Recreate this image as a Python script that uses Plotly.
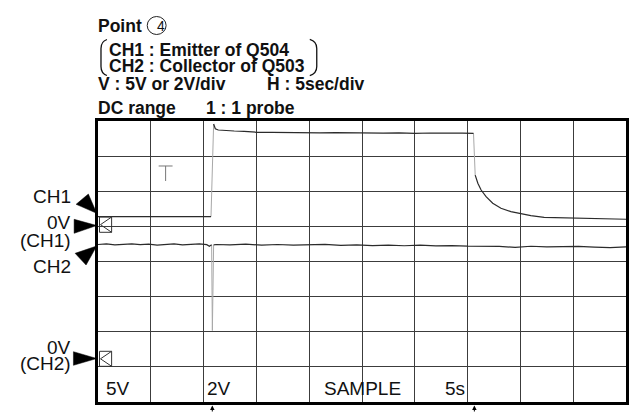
import plotly.graph_objects as go

# ---- scope settings ----
SEC_PER_DIV = 5
CH1_V_PER_DIV = 5
CH2_V_PER_DIV = 2
N_HDIV, N_VDIV = 10, 8
CH1_GND_DIV = 1.039    # 0V(CH1) marker, divisions above screen centre
CH2_GND_DIV = -2.776   # 0V(CH2) marker

# ---- CH1 : Emitter of Q504 (seconds, volts) ----
ch1_time = [0, 2, 4, 6, 8, 10, 10.70,
            10.95, 11.11, 11.39, 11.96, 12.9, 13.84, 15.07, 16.5, 18, 19.5, 21,
            22.5, 24, 25.5, 27, 28.5, 30, 31.5, 33, 34.5, 35.56,
            35.72, 35.97, 36.28, 36.75, 37.38, 38.16, 39.1, 40.05, 40.99, 42.25,
            44.44, 46.64, 48.21, 49.78, 50]
ch1_volts = [1.18, 1.19, 1.18, 1.17, 1.18, 1.19, 1.18,
             14.38, 13.71, 13.52, 13.45, 13.38, 13.34, 13.2, 13.18, 13.14, 13.2, 13.12,
             13.16, 13.1, 13.13, 13.08, 13.12, 13.05, 13.1, 13.04, 13.08, 13.05,
             7.1, 5.94, 4.98, 4.03, 3.09, 2.38, 1.9, 1.57, 1.33, 1.1,
             1.04, 1.0, 0.85, 0.85, 0.82]

# ---- CH2 : Collector of Q503 (seconds, volts) ----
ch2_time = [0, 0.8, 1.6, 2.4, 3.2, 4, 4.8, 5.6, 6.4, 7.2, 8, 8.8, 9.6, 10.3, 10.55, 10.76,
            10.83, 10.95, 11.2, 12.5, 14, 15.5, 17, 18.5, 20, 21.5, 23, 24.5, 26, 27.5,
            29, 30.5, 32, 33.5, 35, 36.5, 38, 39.5, 41, 42.5, 44, 45.5, 47, 48.5, 50]
ch2_volts = [6.52, 6.55, 6.5, 6.53, 6.56, 6.51, 6.54, 6.49, 6.53, 6.55, 6.5, 6.53, 6.56, 6.51, 6.42, 6.5,
             1.62, 6.5, 6.52, 6.5, 6.54, 6.48, 6.52, 6.49, 6.5, 6.53, 6.47, 6.5, 6.46, 6.49,
             6.45, 6.48, 6.44, 6.46, 6.43, 6.44, 6.41, 6.36, 6.42, 6.38, 6.4, 6.41, 6.37, 6.34, 6.39]

bottom_labels = ["5V", "2V", "SAMPLE", "5s"]
header_lines = ["CH1 : Emitter of Q504", "CH2 : Collector of Q503"]

W, H = 631, 413
PL, PR, PT, PB = 98, 629, 121, 402
FONT = "Liberation Sans, Arial, Helvetica, sans-serif"
INK = "#111111"


def fx(px):
    return (px - PL) / (PR - PL)


def fy(py):
    return (PB - py) / (PB - PT)


def split_edges(t, v, jump):
    """Steady parts drawn dark, fast transitions drawn faint."""
    dx, dy, lx, ly = [], [], [], []
    for i in range(len(t) - 1):
        if abs(v[i + 1] - v[i]) > jump:
            lx += [t[i], t[i + 1], None]
            ly += [v[i], v[i + 1], None]
            dx.append(None)
            dy.append(None)
        else:
            if not dx or dx[-1] is None:
                dx.append(t[i])
                dy.append(v[i])
            dx.append(t[i + 1])
            dy.append(v[i + 1])
    return dx, dy, lx, ly


fig = go.Figure()
for t, v, axis, jump in [(ch1_time, ch1_volts, "y", 3.0), (ch2_time, ch2_volts, "y2", 2.0)]:
    dx, dy, lx, ly = split_edges(t, v, jump)
    fig.add_trace(go.Scatter(x=lx, y=ly, yaxis=axis, mode="lines",
                             line=dict(color="#a8a8a8", width=1), hoverinfo="skip"))
    fig.add_trace(go.Scatter(x=dx, y=dy, yaxis=axis, mode="lines",
                             line=dict(color="#2b2b2b", width=1.2), hoverinfo="skip"))

grid = dict(showgrid=True, gridcolor="#3c3c3c", gridwidth=1, showline=True,
            linecolor="black", linewidth=2.5, mirror=True, showticklabels=False,
            ticks="", zeroline=False, fixedrange=True)

# CH1 volts carry the graticule: one division per grid line, centred on the screen
ch1_centre = -CH1_GND_DIV * CH1_V_PER_DIV
ch1_range = [ch1_centre - N_VDIV / 2 * CH1_V_PER_DIV, ch1_centre + N_VDIV / 2 * CH1_V_PER_DIV]
ch2_centre = -CH2_GND_DIV * CH2_V_PER_DIV
ch2_range = [ch2_centre - N_VDIV / 2 * CH2_V_PER_DIV, ch2_centre + N_VDIV / 2 * CH2_V_PER_DIV]

fig.update_layout(
    width=W, height=H,
    margin=dict(l=PL, r=W - PR, t=PT, b=H - PB, pad=0),
    paper_bgcolor="white", plot_bgcolor="white", showlegend=False,
    xaxis=dict(range=[0, N_HDIV * SEC_PER_DIV], dtick=SEC_PER_DIV, tick0=0, **grid),
    yaxis=dict(range=ch1_range, dtick=CH1_V_PER_DIV, tick0=ch1_centre, **grid),
    yaxis2=dict(range=ch2_range, overlaying="y", visible=False, fixedrange=True),
)

anns = []


def text(s, px, py, size, bold=False, xanchor="left", color=INK):
    anns.append(dict(text=f"<b>{s}</b>" if bold else s, x=fx(px), y=fy(py),
                     xref="paper", yref="paper", xanchor=xanchor, yanchor="middle",
                     showarrow=False, borderpad=0, borderwidth=0,
                     font=dict(family=FONT, size=size, color=color)))


# header block
HS = 17.5
text("Point", 98, 26, HS, True)
text("4", 157, 25.5, 14)
text(header_lines[0], 109, 49.5, HS, True)
text(header_lines[1], 109, 66.5, HS, True)
text("V : 5V or 2V/div", 98, 84.5, HS, True)
text("H : 5sec/div", 268, 84.5, HS, True)
text("DC range", 98, 108, HS, True)
text("1 : 1 probe", 207, 108, HS, True)

# channel labels on the left
LS = 19
text("CH1", 71, 196, LS, xanchor="right")
text("0V", 71, 222.5, LS, xanchor="right")
text("(CH1)", 71, 240, LS, xanchor="right")
text("CH2", 71, 266.7, LS, xanchor="right")
text("0V", 71, 347, LS, xanchor="right")
text("(CH2)", 71, 363.5, LS, xanchor="right")

# readout row inside the graticule
for s, px in zip(bottom_labels, [106.5, 207.5, 325, 446.5]):
    text(s, px, 388.3, LS)

# trigger position arrows below the screen, at the CH1 edges
edge_times = [(ch1_time[i] + ch1_time[i + 1]) / 2 for i in range(len(ch1_time) - 1)
              if abs(ch1_volts[i + 1] - ch1_volts[i]) > 3.0]
for t in edge_times:
    anns.append(dict(x=t, y=fy(405.5), xref="x", yref="paper", ax=0, ay=12,
                     showarrow=True, arrowhead=2, arrowsize=0.9, arrowwidth=1,
                     arrowcolor="black", text=""))

fig.update_layout(annotations=anns)


def path(points, close=False):
    s = "M " + " L ".join(f"{fx(x):.5f},{fy(y):.5f}" for x, y in points)
    return s + (" Z" if close else "")


shapes = []
# pointer triangles
for tri in [[(76, 204.3), (88.3, 194), (96.7, 213.3)],
            [(74, 219.3), (74, 233.3), (96.7, 225.5)],
            [(75, 253.3), (86, 265), (96.7, 246)],
            [(73.3, 351.7), (73.3, 365.3), (96.7, 358.5)]]:
    shapes.append(dict(type="path", xref="paper", yref="paper", path=path(tri, True),
                       fillcolor="black", line=dict(color="black", width=0.5)))

# ground reference markers
for top, bot in [(217, 232.3), (351.3, 366.3)]:
    mid = (top + bot) / 2
    shapes.append(dict(type="path", xref="paper", yref="paper",
                       path=path([(99.5, top), (111.7, top), (111.7, bot), (99.5, bot)], True),
                       line=dict(color="#333333", width=1)))
    shapes.append(dict(type="path", xref="paper", yref="paper",
                       path=path([(111.7, top), (100.5, mid), (111.7, bot)]),
                       line=dict(color="#333333", width=1)))

# trigger level "T"
shapes.append(dict(type="path", xref="paper", yref="paper",
                   path=path([(159, 166), (173, 166)]), line=dict(color="#777777", width=1)))
shapes.append(dict(type="path", xref="paper", yref="paper",
                   path=path([(166, 166), (166, 181)]), line=dict(color="#777777", width=1)))

# circle around the point number
shapes.append(dict(type="circle", xref="paper", yref="paper",
                   x0=fx(147.5), x1=fx(166.5), y0=fy(34.5), y1=fy(16.5),
                   line=dict(color="#222222", width=1)))


def qpath(p0, c0, p1, p2, c1, p3):
    f = lambda p: f"{fx(p[0]):.5f},{fy(p[1]):.5f}"
    return f"M {f(p0)} Q {f(c0)} {f(p1)} L {f(p2)} Q {f(c1)} {f(p3)}"


# brackets grouping the two channel lines
shapes.append(dict(type="path", xref="paper", yref="paper",
                   path=qpath((107, 39.5), (101, 41.5), (101, 48.5), (101, 66.5), (101, 73.5), (107, 75.5)),
                   line=dict(color=INK, width=1.3)))
shapes.append(dict(type="path", xref="paper", yref="paper",
                   path=qpath((311, 39.5), (318, 41.5), (318, 48.5), (318, 66.5), (318, 73.5), (311, 75.5)),
                   line=dict(color=INK, width=1.3)))

fig.update_layout(shapes=shapes)
fig.write_html("out.html")
